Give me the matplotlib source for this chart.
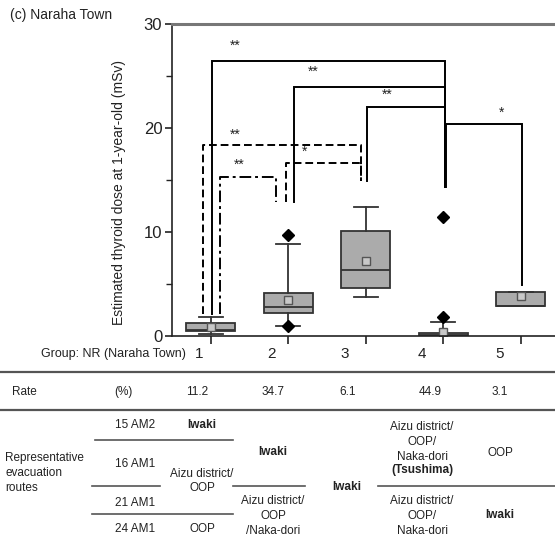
import matplotlib
matplotlib.use("Agg")
import matplotlib.pyplot as plt
from matplotlib.lines import Line2D

plt.rcParams['font.family'] = ['Liberation Sans', 'DejaVu Sans']

# ---------------- data ----------------
groups = [1, 2, 3, 4, 5]
q1 = [0.48, 2.18, 4.58, 0.00, 2.92]
median = [0.55, 2.80, 6.35, 0.05, 2.92]
q3 = [1.22, 4.10, 10.06, 0.29, 4.26]
whisker_low = [0.16, 0.93, 3.75, 0.00, 2.92]
whisker_high = [1.83, 8.88, 12.40, 1.38, 4.26]
means = [0.90, 3.50, 7.24, 0.42, 3.82]
outliers = [[], [0.93, 9.70], [], [1.86, 11.47], []]

rate_pct = ["11.2", "34.7", "6.1", "44.9", "3.1"]
route_dates = ["15 AM2", "16 AM1", "21 AM1", "24 AM1"]

W, H = 555, 539
fig = plt.figure(figsize=(W / 100, H / 100), dpi=100)
fig.patch.set_facecolor("white")

def fx(x):
    return x / W

def fy(y):
    return 1 - y / H

ax = fig.add_axes([fx(172), fy(336), fx(555) - fx(172), fy(24) - fy(336)])
ax.set_xlim(0.5, 5.44)
ax.set_ylim(0, 30)

stats = []
for i in range(len(groups)):
    stats.append(dict(q1=q1[i], med=median[i], q3=q3[i],
                      whislo=whisker_low[i], whishi=whisker_high[i],
                      mean=means[i], fliers=outliers[i]))

ax.bxp(stats, positions=groups, widths=0.63, patch_artist=True,
       showmeans=True, showcaps=True, capwidths=0.31,
       boxprops=dict(facecolor="#ababab", edgecolor="#333333", linewidth=1.3),
       medianprops=dict(color="#333333", linewidth=1.3),
       whiskerprops=dict(color="#333333", linewidth=1.3),
       capprops=dict(color="#333333", linewidth=1.3),
       meanprops=dict(marker="s", markerfacecolor="#c8c8c8",
                      markeredgecolor="#555555", markersize=5.5, markeredgewidth=1),
       flierprops=dict(marker="D", markerfacecolor="black",
                       markeredgecolor="black", markersize=6))

# spines & ticks
ax.spines["right"].set_visible(False)
ax.spines["top"].set_color("#777777")
ax.spines["top"].set_linewidth(2.2)
ax.spines["left"].set_color("#222222")
ax.spines["left"].set_linewidth(1.2)
ax.spines["bottom"].set_color("#222222")
ax.spines["bottom"].set_linewidth(1.2)
ax.set_yticks([0, 10, 20, 30])
ax.set_yticks([5, 15, 25], minor=True)
ax.tick_params(axis="y", which="major", labelsize=12, length=5, width=1.2,
               colors="#222222", pad=2)
ax.tick_params(axis="y", which="minor", length=4, width=1.0, colors="#222222")
ax.set_xticks(groups)
ax.set_xticklabels([""] * 5)
ax.tick_params(axis="x", length=6, width=1.2, colors="#222222")
ax.set_ylabel("Estimated thyroid dose at 1-year-old (mSv)", fontsize=10,
              color="#222222")
ax.yaxis.set_label_coords(-0.12, 0.46)

# significance brackets: (x_left, x_right, y_top, y_left_end, y_right_end, linestyle, label, label_x, label_y)
brackets = [
    (1.02, 4.02, 26.4, 2.1, 14.36, "-", "**", 1.31, 27.2),
    (2.07, 4.02, 23.97, 12.9, 14.36, "-", "**", 2.32, 24.7),
    (3.01, 4.02, 22.0, 14.9, 14.36, "-", "**", 3.27, 22.5),
    (4.03, 5.01, 20.35, 14.36, 4.9, "-", "*", 4.75, 20.8),
    (0.90, 2.935, 18.37, 2.1, 14.9, (0, (4, 2)), "**", 1.31, 18.7),
    (1.97, 2.935, 16.6, 12.9, 14.9, (0, (4, 2)), "*", 2.21, 17.0),
    (1.125, 1.84, 15.26, 2.1, 12.9, (0, (6, 2, 1.5, 2)), "**", 1.37, 15.8),
]
for xl, xr, yt, yl, yr, ls, lab, lx, ly in brackets:
    ax.plot([xl, xl, xr, xr], [yl, yt, yt, yr], color="black", linewidth=1.4,
            linestyle=ls, solid_joinstyle="miter", clip_on=False)
    ax.text(lx, ly, lab, fontsize=10, ha="center", va="bottom", color="#222222")

tc = "#222222"
fig.text(fx(10), fy(15), "(c) Naraha Town", fontsize=10, color=tc, va="center", ha="left")

# group row
fig.text(fx(186), fy(354), "Group: NR (Naraha Town)", fontsize=9, color=tc,
         ha="right", va="center")
label_x = [199, 272, 345, 422, 500]
for x, g in zip(label_x, groups):
    fig.text(fx(x), fy(354), str(g), fontsize=11, color=tc, ha="center", va="center")

def hline(y, x0, x1, color="#555555", lw=1.2):
    fig.add_artist(Line2D([fx(x0), fx(x1)], [fy(y), fy(y)], color=color, linewidth=lw,
                          transform=fig.transFigure))

hline(372, 0, 555, lw=1.6)
hline(410, 0, 555, lw=1.6)

# rate row
fs = 8.5
fig.text(fx(12), fy(392), "Rate", fontsize=fs, color=tc, ha="left", va="center")
fig.text(fx(123), fy(392), "(%)", fontsize=fs, color=tc, ha="center", va="center")
rate_x = [197, 273, 348, 430, 500]
for x, r in zip(rate_x, rate_pct):
    fig.text(fx(x), fy(392), r, fontsize=fs, color=tc, ha="center", va="center")

# routes section
ls_ = 1.3
fig.text(fx(5), fy(473), "Representative\nevacuation\nroutes", fontsize=fs, color=tc,
         ha="left", va="center", linespacing=ls_)
date_y = [425, 464, 503, 529]
for y, d in zip(date_y, route_dates):
    fig.text(fx(135), fy(y), d, fontsize=fs, color=tc, ha="center", va="center")

fig.text(fx(202), fy(425), "Iwaki", fontsize=fs, color=tc, ha="center", va="center", weight="bold")
fig.text(fx(202), fy(481), "Aizu district/\nOOP", fontsize=fs, color=tc, ha="center",
         va="center", linespacing=ls_)
fig.text(fx(202), fy(529), "OOP", fontsize=fs, color=tc, ha="center", va="center")

fig.text(fx(273), fy(452), "Iwaki", fontsize=fs, color=tc, ha="center", va="center", weight="bold")
fig.text(fx(273), fy(516), "Aizu district/\nOOP\n/Naka-dori", fontsize=fs, color=tc,
         ha="center", va="center", linespacing=ls_)

fig.text(fx(347), fy(487), "Iwaki", fontsize=fs, color=tc, ha="center", va="center", weight="bold")

fig.text(fx(422), fy(442), "Aizu district/\nOOP/\nNaka-dori", fontsize=fs, color=tc,
         ha="center", va="center", linespacing=ls_)
fig.text(fx(422), fy(469.5), "(Tsushima)", fontsize=fs, color=tc, ha="center", va="center",
         weight="bold")
fig.text(fx(422), fy(516), "Aizu district/\nOOP/\nNaka-dori", fontsize=fs, color=tc,
         ha="center", va="center", linespacing=ls_)

fig.text(fx(500), fy(453), "OOP", fontsize=fs, color=tc, ha="center", va="center")
fig.text(fx(500), fy(515), "Iwaki", fontsize=fs, color=tc, ha="center", va="center", weight="bold")

hline(440, 95, 233)
hline(486, 92, 160)
hline(514, 92, 233)
hline(486, 233, 305)
hline(486, 378, 555)

fig.savefig("out.png", dpi=100, facecolor="white")
